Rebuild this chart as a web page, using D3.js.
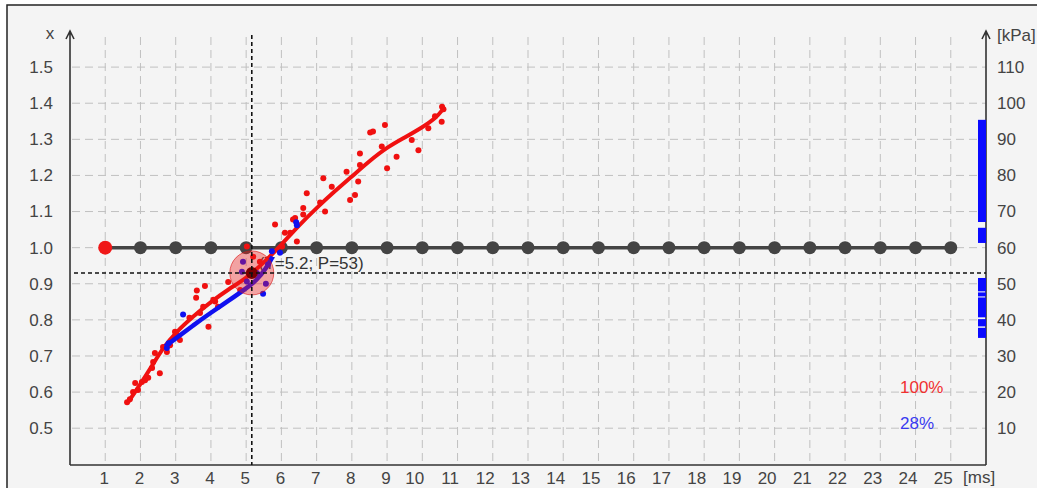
<!DOCTYPE html>
<html>
<head>
<meta charset="utf-8">
<script src="https://cdn.jsdelivr.net/npm/d3@7"></script>
<style>
    body { margin: 0; background: #fff; }
    svg text { font-family: "Liberation Sans", Arial, sans-serif; font-size: 17px; fill: #444; }
</style>
</head>
<body>
<svg id="chart"></svg>
<script>
// tick values
const timeTicks = d3.range(1, 26);
const xTicks = [0.5, 0.6, 0.7, 0.8, 0.9, 1.0, 1.1, 1.2, 1.3, 1.4, 1.5];
const pressureTicks = [10, 20, 30, 40, 50, 60, 70, 80, 90, 100, 110];

// reference line at x = 1.0, one dot per ms
const baseTimes = d3.range(1, 26);
const baseValue = 1.0;

// measured points [T ms, x]
const redPoints = [
    [1.62, 0.572], [1.7, 0.58], [1.79, 0.6], [1.85, 0.625], [1.93, 0.606], [2.04, 0.628],
    [2.13, 0.633], [2.22, 0.64], [2.33, 0.667], [2.36, 0.683], [2.41, 0.708], [2.55, 0.652],
    [2.64, 0.725], [2.75, 0.711], [2.84, 0.73], [2.98, 0.767], [3.04, 0.758], [3.12, 0.744],
    [3.39, 0.806], [3.6, 0.881], [3.58, 0.861], [3.69, 0.819], [3.78, 0.836], [3.83, 0.894],
    [3.93, 0.781], [4.07, 0.856], [4.12, 0.851], [4.2, 0.836], [4.49, 0.905], [4.83, 0.883],
    [5.02, 1.003], [5.2, 0.975], [5.39, 0.961], [5.82, 1.064], [6.02, 1.003], [6.1, 1.041],
    [6.25, 1.041], [6.33, 1.078], [6.39, 1.082], [6.44, 1.017], [6.62, 1.092], [6.62, 1.11],
    [6.72, 1.151], [7.1, 1.125], [7.19, 1.192], [7.24, 1.1], [7.43, 1.169], [7.85, 1.21],
    [7.95, 1.132], [8.09, 1.146], [8.18, 1.183], [8.23, 1.261], [8.23, 1.229], [8.52, 1.319],
    [8.6, 1.322], [8.94, 1.34], [8.85, 1.28], [9.0, 1.22], [9.27, 1.252], [9.7, 1.298],
    [9.89, 1.27], [10.17, 1.331], [10.36, 1.364], [10.56, 1.39], [10.6, 1.383], [10.55, 1.349]
];
const redFit = [
    [1.65, 0.572], [2.0, 0.622], [2.3, 0.668], [2.65, 0.724], [3.0, 0.765], [3.5, 0.81],
    [4.0, 0.85], [4.5, 0.885], [5.0, 0.915], [5.5, 0.958], [6.0, 1.008], [6.5, 1.062],
    [7.0, 1.11], [7.5, 1.155], [8.0, 1.197], [8.5, 1.24], [9.0, 1.278], [9.5, 1.305],
    [10.0, 1.333], [10.4, 1.36], [10.6, 1.385]
];
const bluePoints = [
    [2.75, 0.722], [2.8, 0.735], [3.21, 0.815], [4.88, 0.933], [4.91, 0.961], [5.02, 0.906],
    [5.3, 0.93], [5.48, 0.872], [5.56, 0.9], [5.62, 0.953], [5.73, 0.99], [5.96, 0.986],
    [6.42, 1.07], [6.44, 1.062]
];
const blueFit = [
    [2.7, 0.727], [3.0, 0.748], [3.5, 0.785], [4.0, 0.82], [4.5, 0.853], [5.0, 0.887],
    [5.3, 0.91], [5.55, 0.94], [5.75, 0.975]
];

// pressure ranges on the right edge [from kPa, to kPa]
const pressureBars = [[67.1, 95.4], [61.3, 65.5], [47.9, 51.6], [46.5, 47.6], [40.7, 46.2], [38.2, 40.2], [35.0, 37.8]];

// cursor
const cursorTime = 5.16;
const cursorPressure = 53;
const cursorLabel = "(T=5.2; P=53)";

const redShare = "100%";
const blueShare = "28%";

const width = 1037, height = 488;
const plotLeft = 70, plotRight = 986, plotBottom = 465, plotTop = 31;

const svg = d3.select("#chart").attr("width", width).attr("height", height);

const xScale = d3.scaleLinear().domain([0, 26]).range([plotLeft, plotRight]);
const yScale = d3.scaleLinear().domain([0.4, 1.6]).range([464.3, plotTop]);
const pScale = d3.scaleLinear().domain([0, 120]).range([464.3, plotTop]);

// frame
svg.append("rect")
    .attr("x", 7).attr("y", 5)
    .attr("width", width + 10).attr("height", height + 10)
    .attr("fill", "#f4f4f4")
    .attr("stroke", "#222")
    .attr("stroke-width", 1.5);

// grid
svg.append("g").selectAll("line")
    .data(timeTicks)
    .join("line")
    .attr("x1", d => xScale(d)).attr("x2", d => xScale(d))
    .attr("y1", 37).attr("y2", plotBottom)
    .attr("stroke", "#c0c0c0")
    .attr("stroke-dasharray", "8,5");

svg.append("g").selectAll("line")
    .data(xTicks)
    .join("line")
    .attr("x1", plotLeft + 2).attr("x2", plotRight)
    .attr("y1", d => yScale(d)).attr("y2", d => yScale(d))
    .attr("stroke", "#c0c0c0")
    .attr("stroke-dasharray", "8,5");

// axes labels
const bottomAxis = svg.append("g")
    .attr("transform", `translate(0,${plotBottom})`)
    .call(d3.axisBottom(xScale).tickValues(timeTicks).tickSize(0).tickPadding(7));
bottomAxis.selectAll("text")
    .attr("dx", d => String(d).length === 1 ? -1.5 : -8);

svg.append("g")
    .attr("transform", `translate(${plotLeft},0)`)
    .call(d3.axisLeft(yScale).tickValues(xTicks).tickSize(0).tickPadding(17).tickFormat(d3.format(".1f")));

svg.append("g")
    .attr("transform", `translate(${plotRight},0)`)
    .call(d3.axisRight(pScale).tickValues(pressureTicks).tickSize(0).tickPadding(11));

svg.selectAll(".domain").remove();
svg.selectAll(".tick text").attr("fill", "#444").style("font-size", "17px");

// axis lines with arrows
const axisPath = svg.append("g")
    .attr("fill", "none")
    .attr("stroke", "#333")
    .attr("stroke-width", 1.6);
axisPath.append("path").attr("d", `M${plotLeft},${plotBottom}V${plotTop}M${plotLeft - 4},${plotTop + 8}L${plotLeft},${plotTop}L${plotLeft + 4},${plotTop + 8}`);
axisPath.append("path").attr("d", `M${plotRight},${plotBottom}V${plotTop}M${plotRight - 4},${plotTop + 8}L${plotRight},${plotTop}L${plotRight + 4},${plotTop + 8}`);
axisPath.append("path").attr("d", `M${plotLeft},${plotBottom}H${plotRight}`);

svg.append("text").attr("x", 50).attr("y", 39).attr("text-anchor", "middle").text("x");
svg.append("text").attr("x", 997).attr("y", 41).text("[kPa]");
svg.append("text").attr("x", 963).attr("y", 483).text("[ms]");

// pressure bars
svg.append("g").selectAll("rect")
    .data(pressureBars)
    .join("rect")
    .attr("x", plotRight - 8)
    .attr("width", 8)
    .attr("y", d => pScale(d[1]))
    .attr("height", d => pScale(d[0]) - pScale(d[1]))
    .attr("fill", "#0a0aff");

// cursor label
svg.append("text")
    .attr("x", xScale(cursorTime) + 7)
    .attr("y", pScale(cursorPressure) - 4)
    .style("fill", "#333")
    .text(cursorLabel);

// reference line
const line = d3.line().x(d => xScale(d[0])).y(d => yScale(d[1]));
const curve = d3.line().x(d => xScale(d[0])).y(d => yScale(d[1])).curve(d3.curveBasis);

svg.append("path")
    .datum(baseTimes.map(t => [t, baseValue]))
    .attr("d", line)
    .attr("fill", "none")
    .attr("stroke", "#444")
    .attr("stroke-width", 3.5);

svg.append("g").selectAll("circle")
    .data(baseTimes)
    .join("circle")
    .attr("cx", d => xScale(d))
    .attr("cy", yScale(baseValue))
    .attr("r", (d, i) => i === 0 ? 7 : 6.5)
    .attr("fill", (d, i) => i === 0 ? "#f01818" : "#444");

// red series
svg.append("g").selectAll("circle")
    .data(redPoints)
    .join("circle")
    .attr("cx", d => xScale(d[0]))
    .attr("cy", d => yScale(d[1]))
    .attr("r", 3)
    .attr("fill", "#f01010");

svg.append("path")
    .datum(redFit)
    .attr("d", curve)
    .attr("fill", "none")
    .attr("stroke", "#f01010")
    .attr("stroke-width", 4);

// blue series
svg.append("g").selectAll("circle")
    .data(bluePoints)
    .join("circle")
    .attr("cx", d => xScale(d[0]))
    .attr("cy", d => yScale(d[1]))
    .attr("r", 3)
    .attr("fill", "#1010f0");

svg.append("path")
    .datum(blueFit)
    .attr("d", curve)
    .attr("fill", "none")
    .attr("stroke", "#1010f0")
    .attr("stroke-width", 4.5);

// cursor marker
svg.append("circle")
    .attr("cx", xScale(cursorTime))
    .attr("cy", pScale(cursorPressure))
    .attr("r", 22)
    .attr("fill", "rgba(240,30,30,0.38)")
    .attr("stroke", "rgba(220,20,20,0.6)");

svg.append("circle")
    .attr("cx", xScale(cursorTime))
    .attr("cy", pScale(cursorPressure))
    .attr("r", 6)
    .attr("fill", "#7a0000");

svg.append("line")
    .attr("x1", xScale(cursorTime)).attr("x2", xScale(cursorTime))
    .attr("y1", 35).attr("y2", plotBottom)
    .attr("stroke", "#111")
    .attr("stroke-width", 1.6)
    .attr("stroke-dasharray", "4,3");

svg.append("line")
    .attr("x1", plotLeft + 4).attr("x2", plotRight)
    .attr("y1", pScale(cursorPressure)).attr("y2", pScale(cursorPressure))
    .attr("stroke", "#111")
    .attr("stroke-width", 1.6)
    .attr("stroke-dasharray", "4,3");

// shares
svg.append("text").attr("x", 900).attr("y", 393).style("fill", "#f03030").text(redShare);
svg.append("text").attr("x", 900).attr("y", 429).style("fill", "#3a3af0").text(blueShare);
</script>
</body>
</html>
